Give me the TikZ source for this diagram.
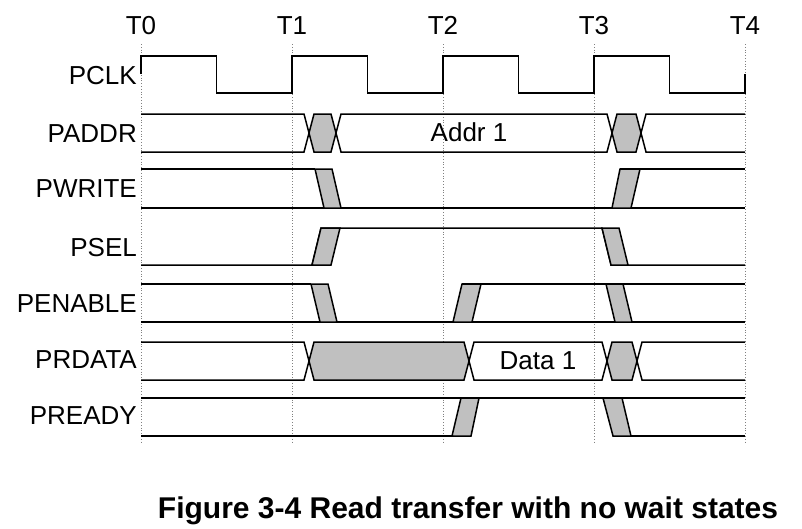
\documentclass[tikz,border=0pt]{standalone}
\usepackage{fontspec}
\setmainfont{Liberation Sans}
\usepackage{xcolor}
\usepackage{tikz}
\usetikzlibrary{positioning}
\definecolor{trgray}{RGB}{192,192,192}

\begin{document}
\begin{tikzpicture}[
  x=1pt, y=-1pt,
  sig/.style={anchor=base east, inner sep=0pt, font=\fontsize{26}{28}\selectfont},
  lbl/.style={anchor=base, inner sep=0pt, font=\fontsize{26}{28}\selectfont},
  wave/.style={line width=1.5pt, line join=miter},
  trans/.style={fill=trgray, draw, line width=1.5pt},
  tick/.style={gray, dotted, line width=0.8pt}
]
\useasboundingbox (0,0) rectangle (802,528);
\foreach \t/\x in {0/141,1/292,2/443,3/594,4/745} {
  \node[lbl] (t\t) at (\x,34) {T\t};
  \draw[tick] (\x,44) -- (\x,444);
}
\node[sig] (pclk) at (137,84) {PCLK};
\node[sig] (paddr) at (137,142) {PADDR};
\node[sig] (pwrite) at (137,197) {PWRITE};
\node[sig] (psel) at (137,256) {PSEL};
\node[sig] (penable) at (137,312) {PENABLE};
\node[sig] (prdata) at (137,368) {PRDATA};
\node[sig] (pready) at (137,424) {PREADY};

\draw[wave] (141,74) \foreach \x in {141,292,443,594} {
  -- (\x,56) -- (\x+75.5,56) -- (\x+75.5,93) -- (\x+151,93)} -- (745,74);

\fill[trgray] (309,133) -- (314,114) -- (331,114) -- (336,133) -- (331,152) -- (314,152) -- cycle;
\fill[trgray] (612,133) -- (617,114) -- (636,114) -- (641,133) -- (636,152) -- (617,152) -- cycle;
\draw[wave] (141,114) -- (304,114) -- (314,152) -- (331,152) -- (341,114) -- (607,114) -- (617,152) -- (636,152) -- (646,114) -- (745,114);
\draw[wave] (141,152) -- (304,152) -- (314,114) -- (331,114) -- (341,152) -- (607,152) -- (617,114) -- (636,114) -- (646,152) -- (745,152);
\node[lbl] (addr) at (469,141) {Addr 1};

\draw[wave] (141,169) -- (315,169);
\draw[wave] (141,208) -- (745,208);
\draw[wave] (620,169) -- (745,169);
\draw[trans] (315,169) -- (332,169) -- (341,208) -- (324,208) -- cycle;
\draw[trans] (620,169) -- (640,169) -- (631,208) -- (612,208) -- cycle;

\draw[wave] (141,265) -- (312,265) -- (321,228) -- (602,228) -- (611,265) -- (745,265);
\draw[trans] (321,228) -- (340,228) -- (331,265) -- (312,265) -- cycle;
\draw[trans] (602,228) -- (619,228) -- (628,265) -- (611,265) -- cycle;

\draw[wave] (141,284) -- (311,284);
\draw[wave] (141,322) -- (745,322);
\draw[wave] (462,284) -- (745,284);
\draw[trans] (311,284) -- (328,284) -- (337,322) -- (320,322) -- cycle;
\draw[trans] (462,284) -- (481,284) -- (472,322) -- (453,322) -- cycle;
\draw[trans] (606,284) -- (623,284) -- (632,322) -- (615,322) -- cycle;

\fill[trgray] (309,361) -- (314,342) -- (464,342) -- (469,361) -- (464,380) -- (314,380) -- cycle;
\fill[trgray] (607,361) -- (612,342) -- (632,342) -- (637,361) -- (632,380) -- (612,380) -- cycle;
\draw[wave] (141,342) -- (304,342) -- (314,380) -- (464,380) -- (474,342) -- (602,342) -- (612,380) -- (632,380) -- (642,342) -- (745,342);
\draw[wave] (141,380) -- (304,380) -- (314,342) -- (464,342) -- (474,380) -- (602,380) -- (612,342) -- (632,342) -- (642,380) -- (745,380);
\node[lbl] (data) at (538,369) {Data 1};

\draw[wave] (141,398) -- (745,398);
\draw[wave] (141,436) -- (452,436);
\draw[wave] (613,436) -- (745,436);
\draw[trans] (461,398) -- (479,398) -- (471,436) -- (452,436) -- cycle;
\draw[trans] (603,398) -- (622,398) -- (631,436) -- (613,436) -- cycle;

\node[anchor=base, font=\bfseries\fontsize{30}{32}\selectfont] (title) at (468,518) {Figure 3-4 Read transfer with no wait states};
\end{tikzpicture}
\end{document}
